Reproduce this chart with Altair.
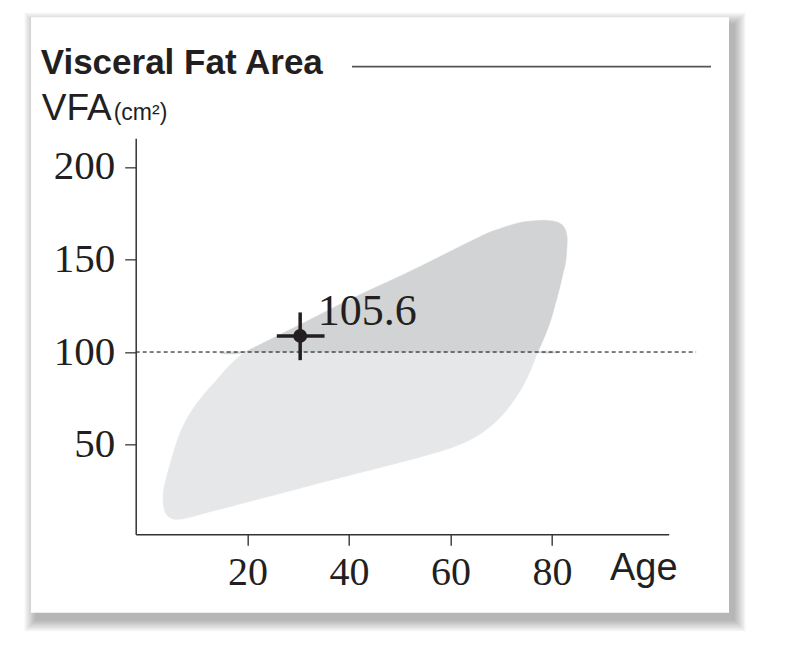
import altair as alt
import pandas as pd

# ---------------- data ----------------
# darker part of the reference band (VFA >= 100); the cut ends are listed twice so the cut stays straight
upper_age = [19.5, 19.5, 30.3, 40.1, 52.5, 65.7, 69.7, 73.6, 77.5, 80.1, 81.7, 82.6, 83.0, 82.9,
             82.7, 82.1, 81.4, 80.6, 79.7, 78.5, 77.2, 77.2]
upper_vfa = [100, 100, 114.7, 128.3, 144.2, 162.2, 166.6, 169.9, 171.1, 170.8, 169.3, 166.4, 161.5, 155.0,
             148.5, 141.5, 133.4, 125.3, 116.7, 108.0, 100, 100]
# lighter part of the reference band (VFA <= 100)
lower_age = [77.2, 77.2, 75.8, 74.2, 72.6, 71.0, 69.1, 66.7, 63.8, 60.8, 57.9, 50.0, 36.2, 26.4, 16.5,
             11.6, 8.7, 6.7, 5.1, 4.0, 3.5, 3.4, 3.6, 4.1, 5.4, 6.7, 8.7, 11.3, 13.9, 15.6, 17.5, 19.5, 19.5]
lower_vfa = [100, 100, 90.2, 81.2, 74.3, 68.4, 62.7, 57.3, 52.4, 48.9, 46.3, 40.3, 30.6, 23.5, 16.4,
             12.9, 10.7, 9.6, 10.0, 12.5, 16.5, 21.7, 27.1, 32.6, 45.3, 56.1, 66.9, 76.7, 84.8, 90.2, 95.4, 100, 100]

# measured result
point_age = [30.4]
point_vfa = [108.7]
point_label = ["105.6"]
cross_age = [25.8, 35.2]
cross_vfa = [95.6, 121.4]

ref_line_vfa = [100]
ref_line_age = [-2, 108.4]

x_ticks = [20, 40, 60, 80]
y_ticks = [50, 100, 150, 200]
x_domain = [-2, 103]
y_domain = [1.5, 215.5]

title_text = ["Visceral Fat Area"]
ylab_text = ["VFA"]
yunit_text = ["(cm²)"]
xlab_text = ["Age"]

# ---------------- styles ----------------
INK = "#231f20"
DARK = "#d1d3d4"
LIGHT = "#e6e7e8"
W, H = 533, 396
SERIF = "Liberation Serif"
SANS = "Liberation Sans"

xs = alt.Scale(domain=x_domain, nice=False, zero=False)
ys = alt.Scale(domain=y_domain, nice=False, zero=False)

dummy = pd.DataFrame({"k": [0]})
layers = []

# card shadow + card (decoration, pixel coordinates relative to plot origin)
cx0, cx1, cy0, cy1 = -104.7, 593.3, -121.0, 474.4
sdx, sdy = 5, 7
for s in [1, 2.5, 4, 5.5, 7, 8.5, 10, 11.5]:
    layers.append(
        alt.Chart(dummy).mark_rect(color="#000000", opacity=0.038).encode(
            x=alt.value(cx0 + sdx - s), x2=alt.value(cx1 + sdx + s),
            y=alt.value(cy0 + sdy - s), y2=alt.value(cy1 + sdy + s)
        )
    )
layers.append(
    alt.Chart(dummy).mark_rect(color="#ffffff").encode(
        x=alt.value(cx0), x2=alt.value(cx1), y=alt.value(cy0), y2=alt.value(cy1)
    )
)

x_axis = alt.Axis(values=x_ticks, title=None, grid=False, labelFont=SERIF, labelFontSize=40,
                  labelColor=INK, tickSize=11, tickColor="#444444", tickWidth=1.5,
                  domainColor="#333333", domainWidth=1.5, labelPadding=7, zindex=1)
y_axis = alt.Axis(values=y_ticks, title=None, grid=False, labelFont=SERIF, labelFontSize=41,
                  labelColor=INK, tickSize=11, tickColor="#555555", tickWidth=1.5,
                  domainColor="#333333", domainWidth=1.5, labelPadding=10, zindex=1)

low_df = pd.DataFrame({"age": lower_age, "vfa": lower_vfa, "i": list(range(len(lower_age)))})
up_df = pd.DataFrame({"age": upper_age, "vfa": upper_vfa, "i": list(range(len(upper_age)))})

layers.append(
    alt.Chart(low_df).mark_line(interpolate="cardinal-closed", fill=LIGHT, stroke=LIGHT, strokeWidth=0.5).encode(
        x=alt.X("age:Q", scale=xs, axis=x_axis),
        y=alt.Y("vfa:Q", scale=ys, axis=y_axis),
        order="i:Q",
    )
)
layers.append(
    alt.Chart(up_df).mark_line(interpolate="cardinal-closed", fill=DARK, stroke=DARK, strokeWidth=0.5).encode(
        x=alt.X("age:Q", scale=xs),
        y=alt.Y("vfa:Q", scale=ys),
        order="i:Q",
    )
)

# dashed reference line at 100
ref_df = pd.DataFrame({"a0": [ref_line_age[0]], "a1": [ref_line_age[1]], "v": ref_line_vfa})
layers.append(
    alt.Chart(ref_df).mark_rule(color="#000000", strokeWidth=1, strokeDash=[4, 3]).encode(
        x=alt.X("a0:Q", scale=xs), x2="a1:Q", y=alt.Y("v:Q", scale=ys)
    )
)

# crosshair
h_df = pd.DataFrame({"a0": [cross_age[0]], "a1": [cross_age[1]], "v": point_vfa})
v_df = pd.DataFrame({"a": point_age, "v0": [cross_vfa[0]], "v1": [cross_vfa[1]]})
layers.append(
    alt.Chart(h_df).mark_rule(color=INK, strokeWidth=3.5).encode(
        x=alt.X("a0:Q", scale=xs), x2="a1:Q", y=alt.Y("v:Q", scale=ys)
    )
)
layers.append(
    alt.Chart(v_df).mark_rule(color=INK, strokeWidth=3.5).encode(
        x=alt.X("a:Q", scale=xs), y=alt.Y("v0:Q", scale=ys), y2="v1:Q"
    )
)
pt_df = pd.DataFrame({"a": point_age, "v": point_vfa, "t": point_label})
layers.append(
    alt.Chart(pt_df).mark_circle(color=INK, opacity=1, size=190).encode(
        x=alt.X("a:Q", scale=xs), y=alt.Y("v:Q", scale=ys)
    )
)
layers.append(
    alt.Chart(pt_df).mark_text(font=SERIF, fontSize=44, color=INK, align="left", baseline="alphabetic",
                               dx=17.5, dy=-10.7).encode(
        x=alt.X("a:Q", scale=xs), y=alt.Y("v:Q", scale=ys), text="t:N"
    )
)

# header texts and rule
layers.append(
    alt.Chart(pd.DataFrame({"t": title_text})).mark_text(
        font=SANS, fontSize=35, fontWeight="bold", color=INK, align="left", baseline="alphabetic"
    ).encode(x=alt.value(-95), y=alt.value(-64.3), text="t:N")
)
layers.append(
    alt.Chart(dummy).mark_rule(color="#555555", strokeWidth=1.8).encode(
        x=alt.value(216.3), x2=alt.value(575.3), y=alt.value(-71.6)
    )
)
layers.append(
    alt.Chart(pd.DataFrame({"t": ylab_text})).mark_text(
        font=SANS, fontSize=37, color=INK, align="left", baseline="alphabetic"
    ).encode(x=alt.value(-94), y=alt.value(-18.3), text="t:N")
)
layers.append(
    alt.Chart(pd.DataFrame({"t": yunit_text})).mark_text(
        font=SANS, fontSize=23, color=INK, align="left", baseline="alphabetic"
    ).encode(x=alt.value(-22), y=alt.value(-18.3), text="t:N")
)
layers.append(
    alt.Chart(pd.DataFrame({"t": xlab_text})).mark_text(
        font=SANS, fontSize=38, color=INK, align="left", baseline="alphabetic"
    ).encode(x=alt.value(474.3), y=alt.value(441.7), text="t:N")
)

chart = alt.layer(*layers).properties(
    width=W, height=H,
    autosize=alt.AutoSizeParams(type="none"),
    padding={"left": 127.7, "top": 130.3, "right": 116.3, "bottom": 126.7},
    background="#ffffff",
).configure_view(strokeWidth=0)

chart.save("out.html", embed_options={"renderer": "svg", "actions": False})
